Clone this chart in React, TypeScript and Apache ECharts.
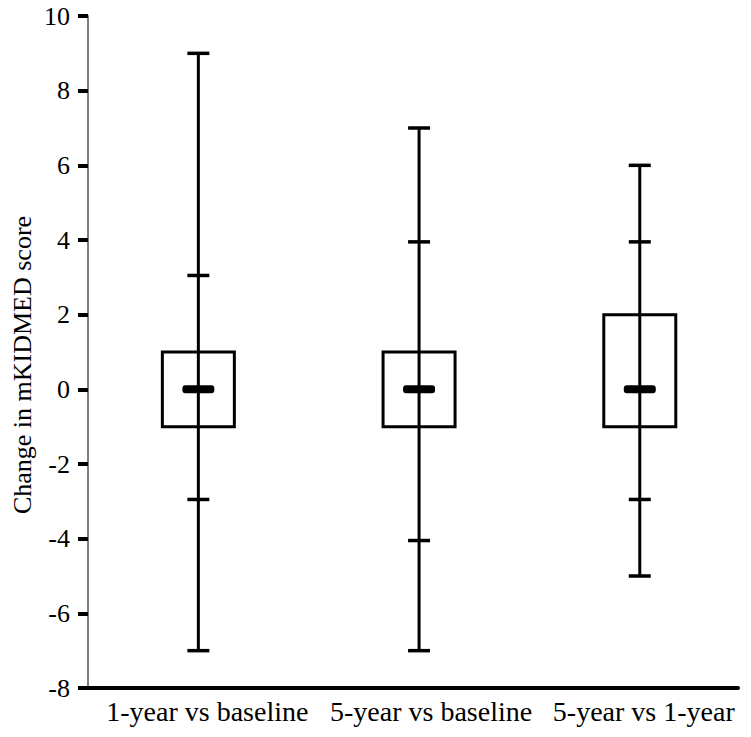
import React, { useEffect, useRef } from "react";
import * as echarts from "echarts";

const categories = ["1-year vs baseline", "5-year vs baseline", "5-year vs 1-year"];
const maxVals = [9, 7, 6];
const upperCaps = [3.05, 3.95, 3.95];
const q3Vals = [1, 1, 2];
const medians = [0, 0, 0];
const q1Vals = [-1, -1, -1];
const lowerCaps = [-2.95, -4.05, -2.95];
const minVals = [-7, -7, -5];
const yTicks = [-8, -6, -4, -2, 0, 2, 4, 6, 8, 10];

// label style: left padding used to nudge each category label like in the reference
const labelPad = [18, 24, 8];

const FONT = "Liberation Serif";

export default function App() {
  const ref = useRef<HTMLDivElement>(null);
  useEffect(() => {
    if (!ref.current) return;
    const chart = echarts.init(ref.current, undefined, { renderer: "svg" });
    const data = categories.map((_, i) => [
      i + 1,
      maxVals[i],
      upperCaps[i],
      q3Vals[i],
      medians[i],
      q1Vals[i],
      lowerCaps[i],
      minVals[i],
    ]);
    const renderItem = (params: any, api: any) => {
      const x = api.value(0);
      const pMax = api.coord([x, api.value(1)]);
      const pUp = api.coord([x, api.value(2)]);
      const pQ3 = api.coord([x, api.value(3)]);
      const pMed = api.coord([x, api.value(4)]);
      const pQ1 = api.coord([x, api.value(5)]);
      const pLow = api.coord([x, api.value(6)]);
      const pMin = api.coord([x, api.value(7)]);
      const cx = pMax[0];
      const boxW = 72;
      const capW = 22;
      const medW = 32;
      const cap = (p: number[]) => ({
        type: "line",
        shape: { x1: cx - capW / 2, y1: p[1], x2: cx + capW / 2, y2: p[1] },
        style: { stroke: "#000", lineWidth: 3.5 },
        z2: 3,
      });
      return {
        type: "group",
        children: [
          {
            type: "rect",
            shape: { x: cx - boxW / 2, y: pQ3[1], width: boxW, height: pQ1[1] - pQ3[1] },
            style: { stroke: "#000", lineWidth: 3, fill: "none" },
            z2: 1,
          },
          {
            type: "line",
            shape: { x1: cx, y1: pMax[1], x2: cx, y2: pMin[1] },
            style: { stroke: "#000", lineWidth: 3 },
            z2: 2,
          },
          cap(pMax),
          cap(pUp),
          cap(pLow),
          cap(pMin),
          {
            type: "rect",
            shape: { x: cx - medW / 2, y: pMed[1] - 4, width: medW, height: 8, r: 3 },
            style: { fill: "#000", stroke: null },
            z2: 4,
          },
        ],
      };
    };
    const rich: any = {};
    labelPad.forEach((p, i) => {
      rich["c" + i] = { fontFamily: FONT, fontSize: 28, color: "#000", padding: [0, 0, 0, p] };
    });
    chart.setOption({
      animation: false,
      textStyle: { fontFamily: FONT },
      grid: { left: 88, right: 13, top: 16, bottom: 49, containLabel: false },
      xAxis: {
        type: "value",
        min: 0.5,
        max: 3.445,
        splitLine: { show: false },
        axisTick: { show: false },
        axisLine: { show: true, onZero: false, lineStyle: { color: "#000", width: 4 } },
        axisLabel: {
          customValues: [1, 2, 3],
          formatter: (v: number) => {
            const i = Math.round(v) - 1;
            return "{c" + i + "|" + (categories[i] ?? "") + "}";
          },
          rich,
          fontFamily: FONT,
          fontSize: 28,
          color: "#000",
          margin: 9,
        },
      },
      yAxis: {
        type: "value",
        min: -8,
        max: 10,
        interval: 2,
        splitLine: { show: false },
        axisLine: { show: true, onZero: false, lineStyle: { color: "#7f7f7f", width: 2 } },
        axisTick: { show: true, length: 10, lineStyle: { color: "#000", width: 4 } },
        axisLabel: {
          customValues: yTicks,
          fontFamily: FONT,
          fontSize: 26,
          color: "#000",
          margin: 18,
        },
      },
      graphic: [
        {
          type: "text",
          x: 22,
          y: 365,
          rotation: Math.PI / 2,
          style: {
            text: "Change in mKIDMED score",
            fontFamily: FONT,
            fontSize: 26,
            fill: "#000",
            align: "center",
            verticalAlign: "middle",
          },
        },
      ],
      series: [
        {
          type: "custom",
          renderItem,
          encode: { x: 0, y: [1, 2, 3, 4, 5, 6, 7] },
          data,
          clip: false,
        },
      ],
    });
    return () => chart.dispose();
  }, []);
  return (
    <div
      ref={ref}
      style={{ position: "fixed", left: 0, top: 0, width: 751, height: 737, background: "#fff" }}
    />
  );
}
